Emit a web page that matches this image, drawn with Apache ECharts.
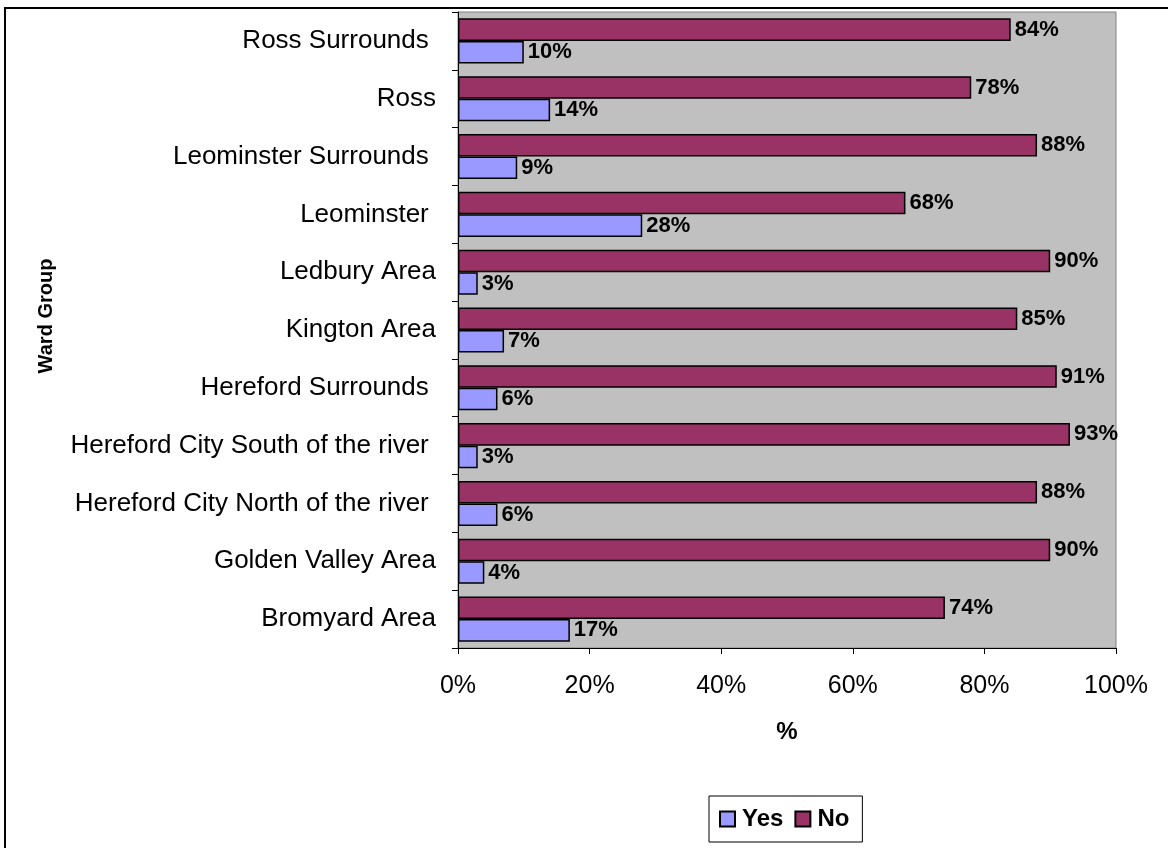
<!DOCTYPE html>
<html>
<head>
<meta charset="utf-8">
<script src="https://cdn.jsdelivr.net/npm/echarts@6/dist/echarts.min.js"></script>
<style>
html,body{margin:0;padding:0;background:#fff;}
#c{width:1168px;height:848px;}
</style>
</head>
<body>
<div id="c"></div>
<script>
const categories = ["Bromyard Area","Golden Valley Area","Hereford City North of the river ","Hereford City South of the river ","Hereford Surrounds ","Kington Area","Ledbury Area","Leominster ","Leominster Surrounds ","Ross","Ross Surrounds "];
const yesValues = [17,4,6,3,6,7,3,28,9,14,10];
const noValues = [74,90,88,93,91,85,90,68,88,78,84];
const xTicks = [0,20,40,60,80,100];

const FONT = "Liberation Sans, Arial, sans-serif";
const chart = echarts.init(document.getElementById('c'), null, {renderer:'canvas'});
const labelCfg = {show:true, position:'right', distance:4, formatter:p=>p.value+'%', fontFamily:FONT, fontWeight:'bold', fontSize:22, color:'#000'};
chart.setOption({
  animation:false,
  backgroundColor:'#fff',
  graphic:[{type:'rect', shape:{x:5,y:8,width:1200,height:900}, style:{fill:'none', stroke:'#000', lineWidth:2}, z:-1}],
  grid:{left:458, top:12, width:658, height:636, show:true, backgroundColor:'#C0C0C0', borderColor:'#808080', borderWidth:1},
  legend:{
    data:['Yes','No'], left:709, top:796,
    padding:[11,13,11,10], itemGap:11, itemWidth:15, itemHeight:15, icon:'rect',
    borderColor:'#000', borderWidth:1,
    textStyle:{fontFamily:FONT, fontWeight:'bold', fontSize:24, color:'#000', padding:[0,0,0,2]}
  },
  xAxis:{
    type:'value', min:0, max:100, interval:20,
    name:'%', nameLocation:'middle', nameGap:72,
    nameTextStyle:{fontFamily:FONT, fontWeight:'bold', fontSize:24, color:'#000'},
    axisLine:{show:true, lineStyle:{color:'#000'}},
    axisTick:{show:true, length:6, lineStyle:{color:'#000'}},
    splitLine:{show:false},
    axisLabel:{formatter:v=>v+'%', fontFamily:FONT, fontSize:25, color:'#000', margin:26}
  },
  yAxis:{
    type:'category', data:categories,
    name:'Ward Group', nameLocation:'middle', nameGap:402, nameRotate:90,
    nameTextStyle:{fontFamily:FONT, fontWeight:'bold', fontSize:20, color:'#000', padding:[0,0,0,28]},
    axisLine:{show:true, lineStyle:{color:'#000'}},
    axisTick:{show:true, length:6, lineStyle:{color:'#000'}},
    axisLabel:{fontFamily:FONT, fontSize:26, color:'#000', margin:22}
  },
  series:[
    {name:'No', type:'bar', data:noValues, barGap:'0%', barCategoryGap:'22%',
     itemStyle:{color:'#993366', borderColor:'#000', borderWidth:1.5}, label:labelCfg},
    {name:'Yes', type:'bar', data:yesValues, barGap:'0%', barCategoryGap:'22%',
     itemStyle:{color:'#9999FF', borderColor:'#000', borderWidth:1.5}, label:labelCfg}
  ]
});
</script>
</body>
</html>
